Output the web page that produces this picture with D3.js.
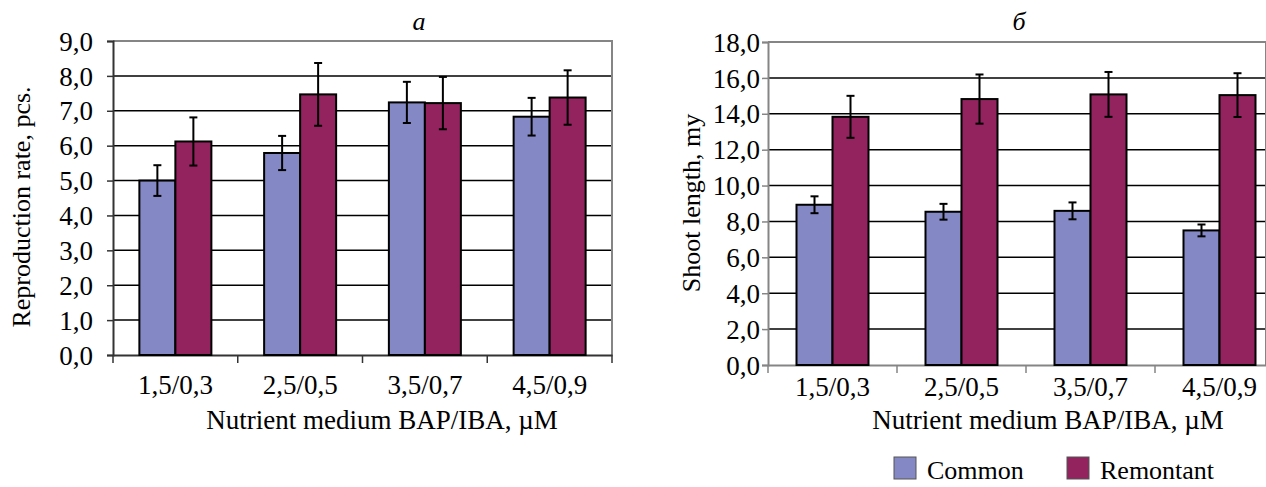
<!DOCTYPE html>
<html>
<head>
<meta charset="utf-8">
<script src="https://cdn.jsdelivr.net/npm/d3@7"></script>
<style>
  body { margin: 0; background: #fff; }
  svg text { font-family: "Liberation Serif", "Times New Roman", serif; fill: #000; }
</style>
</head>
<body>
<div id="chart"></div>
<script>
// data
const categories = ["1,5/0,3", "2,5/0,5", "3,5/0,7", "4,5/0,9"];
const seriesNames = ["Common", "Remontant"];
const seriesColors = ["#8488c4", "#92235f"];

const rateCommon = [5.0, 5.79, 7.24, 6.83];
const rateCommonErr = [0.44, 0.49, 0.59, 0.54];
const rateRemontant = [6.12, 7.47, 7.22, 7.38];
const rateRemontantErr = [0.69, 0.90, 0.75, 0.78];

const lengthCommon = [8.93, 8.54, 8.59, 7.50];
const lengthCommonErr = [0.47, 0.44, 0.47, 0.33];
const lengthRemontant = [13.83, 14.82, 15.08, 15.04];
const lengthRemontantErr = [1.17, 1.37, 1.25, 1.22];

const rateTicks = [0, 1, 2, 3, 4, 5, 6, 7, 8, 9];
const lengthTicks = [0, 2, 4, 6, 8, 10, 12, 14, 16, 18];

const fmt = function(v) { return d3.format(".1f")(v).replace(".", ","); };

var svg = d3.select("#chart")
  .append("svg")
  .attr("width", 1266)
  .attr("height", 487);

function drawPanel(p) {
  var g = svg.append("g");

  var x = d3.scaleBand().domain(categories).range([p.left, p.left + p.band * categories.length]);
  var y = d3.scaleLinear().domain([0, d3.max(p.ticks)]).range([p.bottom, p.top]);
  var x1 = d3.scaleBand().domain(seriesNames)
    .range([x.bandwidth() / 2 - 36, x.bandwidth() / 2 + 36]);

  // gridlines
  g.append("g")
    .selectAll("line")
    .data(p.ticks.filter(function(t) { return t > 0 && t < d3.max(p.ticks); }))
    .enter().append("line")
    .attr("x1", p.left).attr("x2", p.right)
    .attr("y1", function(d) { return y(d); })
    .attr("y2", function(d) { return y(d); })
    .attr("stroke", "#000")
    .attr("stroke-width", 1.5);

  // plot frame (top/right gray)
  g.append("path")
    .attr("d", "M" + p.left + "," + p.top + "H" + p.right + "V" + p.bottom)
    .attr("fill", "none")
    .attr("stroke", "#858585")
    .attr("stroke-width", 2);

  // y axis
  var yAxis = g.append("g")
    .attr("transform", "translate(" + p.left + ",0)")
    .call(d3.axisLeft(y).tickValues(p.ticks).tickFormat(fmt).tickSize(6).tickPadding(p.yPad));
  yAxis.select(".domain").attr("stroke", p.axisColor).attr("stroke-width", 2);
  yAxis.selectAll(".tick line").attr("stroke", p.axisColor).attr("stroke-width", 1.5);
  yAxis.selectAll("text")
    .style("font-family", "Liberation Serif")
    .style("font-size", "27px")
    .attr("fill", "#000")
    .attr("dy", "0.34em");

  // x axis with ticks between categories
  var xAxis = g.append("g")
    .attr("transform", "translate(0," + p.bottom + ")")
    .call(d3.axisBottom(x).tickSize(0).tickPadding(p.xPad));
  xAxis.select(".domain").attr("stroke", p.axisColor).attr("stroke-width", 2);
  xAxis.selectAll("text")
    .style("font-family", "Liberation Serif")
    .style("font-size", "27px")
    .attr("fill", "#000");
  xAxis.selectAll(".sep")
    .data(d3.range(categories.length + 1))
    .enter().append("line")
    .attr("class", "sep")
    .attr("x1", function(i) { return p.left + i * x.step(); })
    .attr("x2", function(i) { return p.left + i * x.step(); })
    .attr("y1", 0).attr("y2", 8)
    .attr("stroke", p.axisColor)
    .attr("stroke-width", 1.5);

  // bars
  var rows = categories.map(function(c, i) {
    return seriesNames.map(function(s, j) {
      return { cat: c, series: s, value: p.values[j][i], err: p.errors[j][i], color: seriesColors[j] };
    });
  });
  var groups = g.selectAll(".grp")
    .data(rows)
    .enter().append("g")
    .attr("class", "grp")
    .attr("transform", function(d) { return "translate(" + x(d[0].cat) + ",0)"; });

  groups.selectAll("rect")
    .data(function(d) { return d; })
    .enter().append("rect")
    .attr("x", function(d) { return x1(d.series); })
    .attr("y", function(d) { return y(d.value); })
    .attr("width", x1.bandwidth())
    .attr("height", function(d) { return y(0) - y(d.value); })
    .attr("fill", function(d) { return d.color; })
    .attr("stroke", "#000")
    .attr("stroke-width", 2);

  // error bars
  var eb = groups.selectAll(".err")
    .data(function(d) { return d; })
    .enter().append("g")
    .attr("class", "err")
    .attr("stroke", "#000")
    .attr("stroke-width", 2);
  eb.append("line")
    .attr("x1", function(d) { return x1(d.series) + x1.bandwidth() / 2; })
    .attr("x2", function(d) { return x1(d.series) + x1.bandwidth() / 2; })
    .attr("y1", function(d) { return y(d.value + d.err); })
    .attr("y2", function(d) { return y(d.value - d.err); });
  eb.selectAll(".cap")
    .data(function(d) { return [d.value + d.err, d.value - d.err].map(function(v) { return { v: v, d: d }; }); })
    .enter().append("line")
    .attr("x1", function(c) { return x1(c.d.series) + x1.bandwidth() / 2 - 4; })
    .attr("x2", function(c) { return x1(c.d.series) + x1.bandwidth() / 2 + 4; })
    .attr("y1", function(c) { return y(c.v); })
    .attr("y2", function(c) { return y(c.v); });

  // titles
  g.append("text")
    .attr("x", p.titleX).attr("y", 30)
    .attr("text-anchor", "middle")
    .style("font-size", "26px")
    .style("font-style", "italic")
    .text(p.title);

  g.append("text")
    .attr("x", p.xTitleX).attr("y", 429)
    .attr("text-anchor", "middle")
    .style("font-size", "27px")
    .text("Nutrient medium BAP/IBA, \u00b5M");

  g.append("text")
    .attr("transform", "translate(" + p.yTitleX + "," + p.yTitleY + ") rotate(-90)")
    .attr("text-anchor", "middle")
    .style("font-size", "26px")
    .text(p.yTitle);
}

drawPanel({
  left: 113, right: 612, top: 41, bottom: 355, band: 124.75,
  ticks: rateTicks, values: [rateCommon, rateRemontant], errors: [rateCommonErr, rateRemontantErr],
  axisColor: "#333", yPad: 14, xPad: 20,
  title: "a", titleX: 419, xTitleX: 382,
  yTitle: "Reproduction rate, pcs.", yTitleX: 30, yTitleY: 207
});

drawPanel({
  left: 768, right: 1266, top: 42, bottom: 365, band: 129,
  ticks: lengthTicks, values: [lengthCommon, lengthRemontant], errors: [lengthCommonErr, lengthRemontantErr],
  axisColor: "#858585", yPad: 2, xPad: 12,
  title: "\u0431", titleX: 1019, xTitleX: 1048,
  yTitle: "Shoot length, my", yTitleX: 700, yTitleY: 203
});

// legend
var legend = svg.append("g").attr("class", "legend");
var legendX = [894, 1067];
seriesNames.forEach(function(s, i) {
  legend.append("rect")
    .attr("x", legendX[i]).attr("y", 457)
    .attr("width", 22).attr("height", 22)
    .attr("fill", seriesColors[i])
    .attr("stroke", "#555")
    .attr("stroke-width", 1);
  legend.append("text")
    .attr("x", legendX[i] + 33).attr("y", 479)
    .style("font-size", "26px")
    .text(s);
});
</script>
</body>
</html>
